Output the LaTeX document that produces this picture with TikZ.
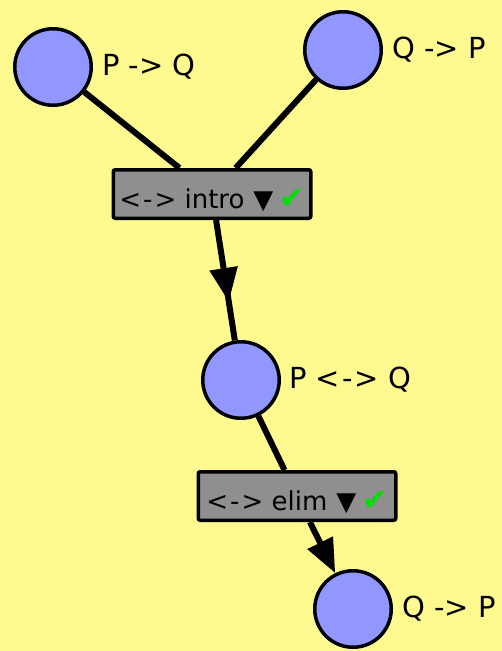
\documentclass[tikz,border=0pt]{standalone}
\usepackage{fontspec}
\setmainfont{DejaVu Sans}
\usetikzlibrary{positioning,arrows.meta,decorations.markings}
\definecolor{bgyellow}{RGB}{255,250,143}
\definecolor{propblue}{RGB}{145,151,255}
\definecolor{rulegray}{RGB}{143,143,143}
\definecolor{tickgreen}{RGB}{0,224,0}
\newcommand{\ruletag}{\hspace{9pt}▼\hspace{6pt}{\fontsize{30}{32}\selectfont\textcolor{tickgreen}{✔}}}
\newcommand{\iffarrow}{<\kern2pt-\kern2pt>}
\newcommand{\rulename}[1]{\raisebox{0pt}[29pt][0pt]{\iffarrow{} #1\ruletag}}

\begin{document}
\begin{tikzpicture}[x=1pt, y=-1pt,
  prop node/.style={circle, draw, line width=3.5pt, fill=propblue, minimum size=76.5pt, inner sep=0pt},
  rule node/.style={draw, line width=3.5pt, fill=rulegray, minimum width=197.5pt, minimum height=48.5pt, rounded corners=2pt, inner sep=0pt, font=\fontsize{26}{28}\selectfont},
  prop text/.style={font=\fontsize{29}{32}\selectfont, inner sep=0pt},
  link/.style={line width=6pt},
  head/.style={-{Triangle[length=34pt,width=27pt]}},
  mid head/.style={postaction={decorate}, decoration={markings,
    mark=at position 0.68 with {\arrow{Triangle[length=34pt,width=27pt]}}}}]
\fill[bgyellow] (0,0) rectangle (502,651);
\node[prop node] (pq)    at (53,67)   {};
\node[prop node] (qp)    at (343,50)  {};
\node[rule node] (intro) at (212,194) {\rulename{intro}};
\node[prop node] (piq)   at (241,380) {};
\node[rule node] (elim)  at (297,496) {\rulename{elim}};
\node[prop node] (qpb)   at (353,609) {};
\node[prop text, right=9pt of pq]  (pqt)  {P -{}> Q};
\node[prop text, right=9pt of qp]  (qpt)  {Q -{}> P};
\node[prop text, right=8pt of piq] (piqt) {P \iffarrow{} Q};
\node[prop text, right=9pt of qpb] (qpbt) {Q -{}> P};
\path[link]
(pq)    edge (intro)
(qp)    edge (intro)
(intro) edge[mid head] (piq)
(piq)   edge (elim)
(elim)  edge[head] (qpb);
\end{tikzpicture}
\end{document}
